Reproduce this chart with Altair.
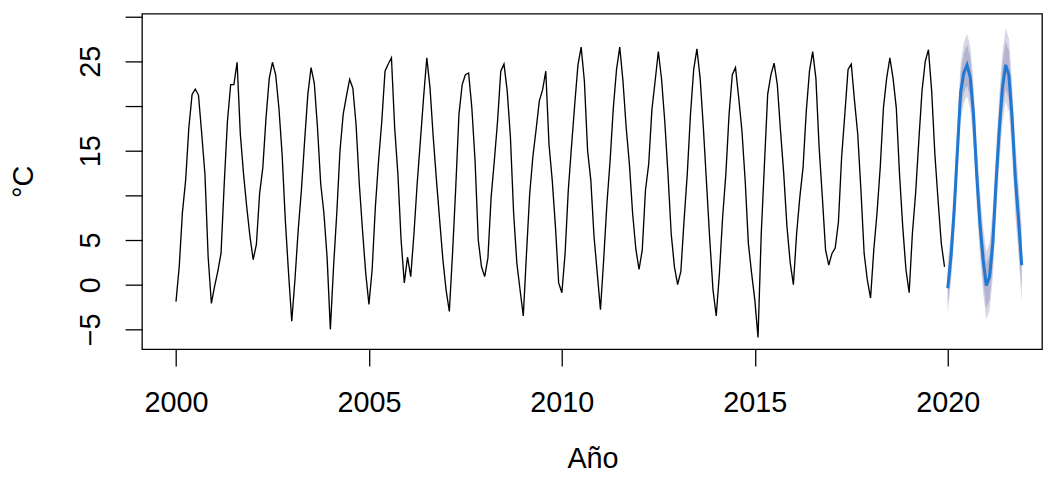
import altair as alt
import pandas as pd

# Observed monthly temperatures (°C), Jan 2000 .. Dec 2019, one list per year
y2000 = [-1.9, 2.0, 8.1, 11.7, 17.6, 21.3, 21.9, 21.2, 16.9, 12.4, 3.1, -2.1]
y2001 = [-0.2, 1.5, 3.5, 11.3, 18.3, 22.4, 22.4, 24.9, 16.9, 12.4, 8.7, 5.4]
y2002 = [2.8, 4.5, 10.2, 13.1, 18.7, 23.1, 24.9, 23.5, 19.8, 14.6, 7.2, 1.3]
y2003 = [-4.1, 0.6, 6.1, 10.6, 16.1, 21.3, 24.3, 22.6, 17.6, 11.3, 8.0, 3.0]
y2004 = [-5.0, 2.0, 8.0, 15.0, 19.1, 21.1, 23.0, 22.0, 17.9, 11.3, 6.1, 1.3]
y2005 = [-2.2, 1.7, 8.7, 13.9, 18.3, 23.9, 24.7, 25.4, 17.6, 12.4, 5.0, 0.2]
y2006 = [3.1, 0.9, 5.7, 11.3, 16.1, 21.0, 25.4, 22.0, 16.5, 11.7, 7.2, 2.8]
y2007 = [-0.6, -3.0, 3.5, 10.9, 19.1, 22.4, 23.5, 23.7, 19.8, 13.9, 5.0, 2.0]
y2008 = [0.9, 3.0, 9.8, 13.9, 18.3, 23.9, 24.7, 21.7, 16.5, 8.0, 2.4, -0.6]
y2009 = [-3.5, 3.5, 10.2, 14.4, 17.4, 20.6, 21.8, 23.9, 15.7, 11.7, 6.5, 0.2]
y2010 = [-0.9, 3.5, 10.6, 15.5, 20.2, 24.6, 26.6, 22.8, 15.0, 11.7, 5.4, 1.3]
y2011 = [-2.8, 2.8, 9.0, 13.9, 19.8, 24.1, 26.6, 22.8, 17.6, 13.5, 8.0, 4.0]
y2012 = [1.7, 3.9, 10.6, 13.5, 19.6, 22.8, 26.1, 23.0, 18.3, 12.4, 5.7, 2.0]
y2013 = [0.0, 1.5, 7.2, 12.4, 19.1, 24.1, 26.4, 23.1, 17.6, 11.3, 5.0, -0.6]
y2014 = [-3.5, 1.3, 7.6, 12.4, 19.1, 23.5, 24.3, 20.9, 17.2, 11.7, 4.6, 1.3]
y2015 = [-1.7, -5.9, 5.7, 13.5, 21.3, 23.5, 24.8, 22.4, 17.2, 12.4, 6.5, 2.5]
y2016 = [0.0, 5.7, 9.8, 13.1, 19.4, 23.9, 26.1, 23.1, 15.4, 9.8, 3.9, 2.2]
y2017 = [3.5, 4.1, 7.0, 14.3, 19.1, 24.1, 24.7, 20.6, 16.9, 10.6, 3.5, 0.5]
y2018 = [-1.5, 3.9, 8.0, 13.1, 19.8, 23.1, 25.4, 23.1, 19.8, 12.4, 6.5, 1.7]
y2019 = [-0.9, 5.7, 10.2, 16.1, 21.7, 25.0, 26.3, 21.7, 14.6, 9.4, 4.6, 2.0]

observed_years = [y2000, y2001, y2002, y2003, y2004, y2005, y2006, y2007, y2008, y2009,
                  y2010, y2011, y2012, y2013, y2014, y2015, y2016, y2017, y2018, y2019]

# Forecast Jan 2020 .. Dec 2021: point forecast and 80% / 95% intervals
fc_mean = [-0.4, 3.1, 8.3, 15.0, 21.5, 23.7, 24.6, 23.2, 19.1, 12.4, 6.9, 2.8,
           -0.1, 0.9, 4.6, 11.3, 17.2, 22.0, 24.6, 23.5, 18.7, 12.0, 7.4, 2.2]
fc_lo80 = [-2.2, 1.2, 6.3, 12.9, 19.4, 21.5, 22.3, 20.9, 16.8, 10.0, 4.5, 0.4,
           -2.6, -1.6, 2.1, 8.8, 14.6, 19.4, 22.0, 20.8, 16.0, 9.3, 4.7, -0.5]
fc_hi80 = [1.4, 5.0, 10.3, 17.1, 23.6, 25.9, 26.9, 25.5, 21.4, 14.8, 9.3, 5.2,
           2.4, 3.4, 7.1, 13.8, 19.8, 24.6, 27.2, 26.2, 21.4, 14.7, 10.1, 4.9]
fc_lo95 = [-3.2, 0.1, 5.2, 11.8, 18.2, 20.3, 21.1, 19.7, 15.5, 8.8, 3.2, -0.9,
           -3.9, -2.9, 0.7, 7.4, 13.2, 18.0, 20.5, 19.4, 14.6, 7.8, 3.2, -2.0]
fc_hi95 = [2.4, 6.1, 11.4, 18.2, 24.8, 27.1, 28.1, 26.7, 22.7, 16.0, 10.6, 6.5,
           3.7, 4.7, 8.5, 15.2, 21.2, 26.0, 28.7, 27.6, 22.8, 16.2, 11.6, 6.4]

x_ticks = [2000, 2005, 2010, 2015, 2020]
y_ticks = [-5, 0, 5, 10, 15, 20, 25, 30]
y_hidden_labels = [10, 20, 30]

obs_rows = []
for yi, vals in enumerate(observed_years):
    for m, v in enumerate(vals):
        obs_rows.append({"t": 2000 + yi + m / 12.0, "temp": v})
obs = pd.DataFrame(obs_rows)

fc = pd.DataFrame({
    "t": [2020 + k / 12.0 for k in range(len(fc_mean))],
    "mean": fc_mean, "lo80": fc_lo80, "hi80": fc_hi80,
    "lo95": fc_lo95, "hi95": fc_hi95,
})

FONT = "Liberation Sans"
FS = 29

xscale = alt.Scale(domain=[1999.118, 2022.443], nice=False, zero=False)
yscale = alt.Scale(domain=[-7.22, 30.33], nice=False, zero=False)

hidden = " || ".join(f"datum.value == {v}" for v in y_hidden_labels)

xaxis = alt.Axis(values=x_ticks, format="d", title="Año", grid=False, domain=False,
                 tickSize=17, tickWidth=1.3, tickColor="black",
                 labelFont=FONT, labelFontSize=FS, labelColor="black",
                 labelBaseline="alphabetic", labelPadding=46, labelAlign="center",
                 labelFlush=False, labelOverlap=False,
                 titleFont=FONT, titleFontSize=FS, titleFontWeight="normal",
                 titleColor="black", titleX=454, titleY=119,
                 titleAlign="center", titleBaseline="alphabetic")
yaxis = alt.Axis(values=y_ticks, title="°C", grid=False, domain=False,
                 tickSize=17, tickWidth=1.3, tickColor="black",
                 labelExpr=f"({hidden}) ? '' : datum.label",
                 labelFont=FONT, labelFontSize=FS, labelColor="black",
                 labelAngle=270, labelAlign="center", labelBaseline="alphabetic",
                 labelPadding=26, labelFlush=False, labelOverlap=False,
                 titleFont=FONT, titleFontSize=FS, titleFontWeight="normal",
                 titleColor="black", titleAngle=270, titleX=-110, titleY=169,
                 titleAlign="center", titleBaseline="alphabetic")

base_fc = alt.Chart(fc)
band95 = base_fc.mark_area(color="#D6D6E6", opacity=1).encode(
    x=alt.X("t:Q", scale=xscale, axis=xaxis),
    y=alt.Y("lo95:Q", scale=yscale, axis=yaxis),
    y2="hi95:Q",
)
band80 = base_fc.mark_area(color="#B4B4D0", opacity=1).encode(
    x=alt.X("t:Q", scale=xscale),
    y=alt.Y("lo80:Q", scale=yscale),
    y2="hi80:Q",
)
obs_line = alt.Chart(obs).mark_line(color="black", strokeWidth=1.35).encode(
    x=alt.X("t:Q", scale=xscale),
    y=alt.Y("temp:Q", scale=yscale),
)
fc_line = base_fc.mark_line(color="#1F78D2", strokeWidth=3).encode(
    x=alt.X("t:Q", scale=xscale),
    y=alt.Y("mean:Q", scale=yscale),
)

chart = alt.layer(band95, band80, obs_line, fc_line).properties(
    width=907, height=338,
    autosize=alt.AutoSizeParams(type="none"),
    padding={"left": 135, "top": 4, "right": 2, "bottom": 126},
).configure(
    background="white",
    view=alt.ViewConfig(stroke="black", strokeWidth=1.3),
)

chart.save("out.html", embed_options={"renderer": "svg", "actions": False})
